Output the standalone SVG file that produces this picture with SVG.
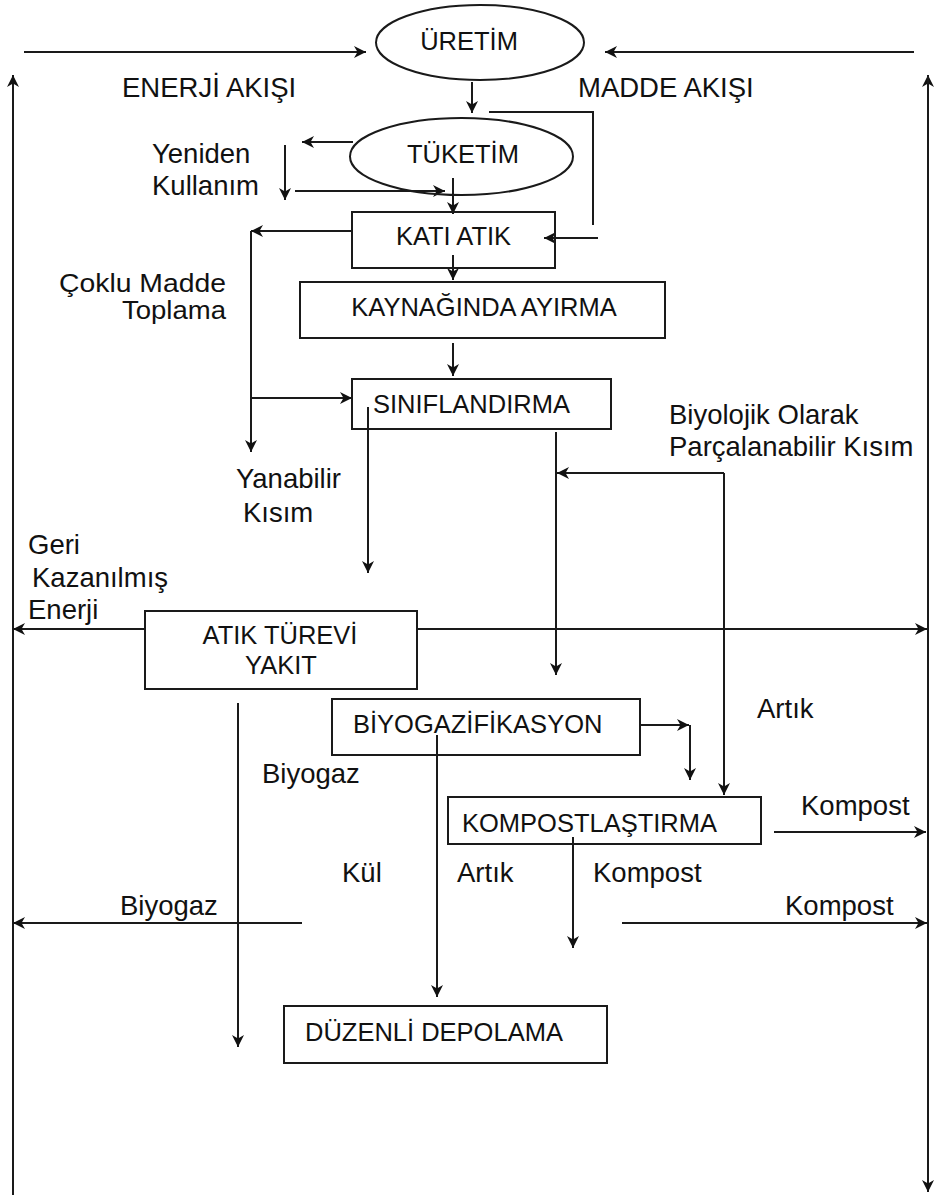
<svg xmlns="http://www.w3.org/2000/svg" width="934" height="1197" viewBox="0 0 934 1197">
<style>
.n{fill:#fff;stroke:#1a1a1a;stroke-width:2}
.c line,.c polyline{stroke:#1a1a1a;stroke-width:2;fill:none}
.a{marker-end:url(#ah)}
.t{font-family:"Liberation Sans",Arial,sans-serif;font-size:25.5px;fill:#111}
.l{font-family:"Liberation Sans",Arial,sans-serif;font-size:27.5px;fill:#111}
.s{font-size:25px}
.m{text-anchor:middle}
.e{text-anchor:end}
</style>
<defs>
<marker id="ah" viewBox="0 0 12 12" refX="12" refY="6" markerWidth="12" markerHeight="12" markerUnits="userSpaceOnUse" orient="auto">
<path d="M0,0 L12,6 L0,12 L3.5,6 z" fill="#111"/>
</marker>
</defs>
<rect width="934" height="1197" fill="#fff"/>

<g class="c" id="connectors">
<line class="a" x1="24" y1="52" x2="366" y2="52"/>
<line class="a" x1="914" y1="52" x2="605" y2="52"/>
<line class="a" x1="13" y1="1195" x2="13" y2="75"/>
<line class="a" x1="928" y1="1192" x2="928" y2="75"/>
<line class="a" x1="928" y1="75" x2="928" y2="1192"/>
<line class="a" x1="472" y1="82" x2="472" y2="113"/>
<polyline points="489,112 593,112 593,225"/>
<line class="a" x1="598" y1="238" x2="544" y2="238"/>
<line class="a" x1="353" y1="142" x2="302" y2="142"/>
<line class="a" x1="285" y1="145" x2="285" y2="200"/>
<line class="a" x1="295" y1="191" x2="445" y2="191"/>
<line class="a" x1="453" y1="178" x2="453" y2="214"/>
<line class="a" x1="352" y1="231" x2="251" y2="231"/>
<line class="a" x1="251" y1="231" x2="251" y2="452"/>
<line class="a" x1="251" y1="398" x2="352" y2="398"/>
<line class="a" x1="453" y1="255" x2="453" y2="280"/>
<line class="a" x1="453" y1="343" x2="453" y2="376"/>
<line class="a" x1="368" y1="407" x2="368" y2="573"/>
<line class="a" x1="556" y1="432" x2="556" y2="675"/>
<line class="a" x1="724" y1="473" x2="557" y2="473"/>
<line class="a" x1="724" y1="473" x2="724" y2="795"/>
<line class="a" x1="148" y1="629" x2="13" y2="629"/>
<line class="a" x1="417" y1="629" x2="927" y2="629"/>
<line class="a" x1="238" y1="703" x2="238" y2="1047"/>
<line class="a" x1="640" y1="725" x2="689" y2="725"/>
<line class="a" x1="690" y1="725" x2="690" y2="780"/>
<line class="a" x1="437" y1="735" x2="437" y2="997"/>
<line class="a" x1="774" y1="832" x2="926" y2="832"/>
<line class="a" x1="573" y1="837" x2="573" y2="948"/>
<line class="a" x1="302" y1="923" x2="13" y2="923"/>
<line class="a" x1="622" y1="923" x2="927" y2="923"/>
</g>

<g id="uretim"><ellipse class="n" cx="480" cy="42.5" rx="104" ry="37.5"/><text class="t m" x="469" y="50">ÜRETİM</text></g>
<g id="tuketim"><ellipse class="n" cx="461.5" cy="156.5" rx="111.5" ry="38.5" style="fill:none"/><text class="t m" x="463" y="163">TÜKETİM</text></g>
<g id="kati-atik"><rect class="n" x="352" y="212" width="203" height="56" style="fill:none"/><text class="t m" x="453.5" y="245">KATI ATIK</text></g>
<g id="kaynaginda"><rect class="n" x="300" y="282" width="365" height="56"/><text class="t m" x="484" y="316">KAYNAĞINDA AYIRMA</text></g>
<g id="siniflandirma"><rect class="n" x="352" y="379" width="259" height="50" style="fill:none"/><text class="t" x="373" y="413">SINIFLANDIRMA</text></g>
<g id="atik-turevi"><rect class="n" x="145" y="611" width="272" height="78"/><text class="t m" x="280" y="644">ATIK TÜREVİ</text><text class="t m" x="281" y="674">YAKIT</text></g>
<g id="biyogazifikasyon"><rect class="n" x="332" y="699" width="308" height="56" style="fill:none"/><text class="t" x="353" y="733">BİYOGAZİFİKASYON</text></g>
<g id="kompost"><rect class="n" x="448" y="797" width="313" height="47" style="fill:none"/><text class="t" x="462" y="832">KOMPOSTLAŞTIRMA</text></g>
<g id="duzenli"><rect class="n" x="284" y="1006" width="323" height="57"/><text class="t" x="305" y="1041">DÜZENLİ DEPOLAMA</text></g>

<g id="labels">
<text class="l" x="122" y="97">ENERJİ AKIŞI</text>
<text class="l" x="578" y="97">MADDE AKIŞI</text>
<text class="l" x="152" y="163">Yeniden</text>
<text class="l" x="152" y="195">Kullanım</text>
<text class="l s" x="59" y="292" textLength="167" lengthAdjust="spacingAndGlyphs">Çoklu Madde</text>
<text class="l s" x="122" y="319" textLength="104" lengthAdjust="spacingAndGlyphs">Toplama</text>
<text class="l" x="236" y="488">Yanabilir</text>
<text class="l" x="243" y="522">Kısım</text>
<text class="l" x="669" y="424">Biyolojik Olarak</text>
<text class="l" x="669" y="456">Parçalanabilir Kısım</text>
<text class="l" x="28" y="554">Geri</text>
<text class="l" x="32" y="587">Kazanılmış</text>
<text class="l" x="28" y="619">Enerji</text>
<text class="l" x="757" y="718">Artık</text>
<text class="l" x="262" y="783">Biyogaz</text>
<text class="l" x="801" y="815">Kompost</text>
<text class="l" x="342" y="882">Kül</text>
<text class="l" x="457" y="882">Artık</text>
<text class="l" x="593" y="882">Kompost</text>
<text class="l" x="120" y="915">Biyogaz</text>
<text class="l" x="785" y="915">Kompost</text>
</g>
</svg>
